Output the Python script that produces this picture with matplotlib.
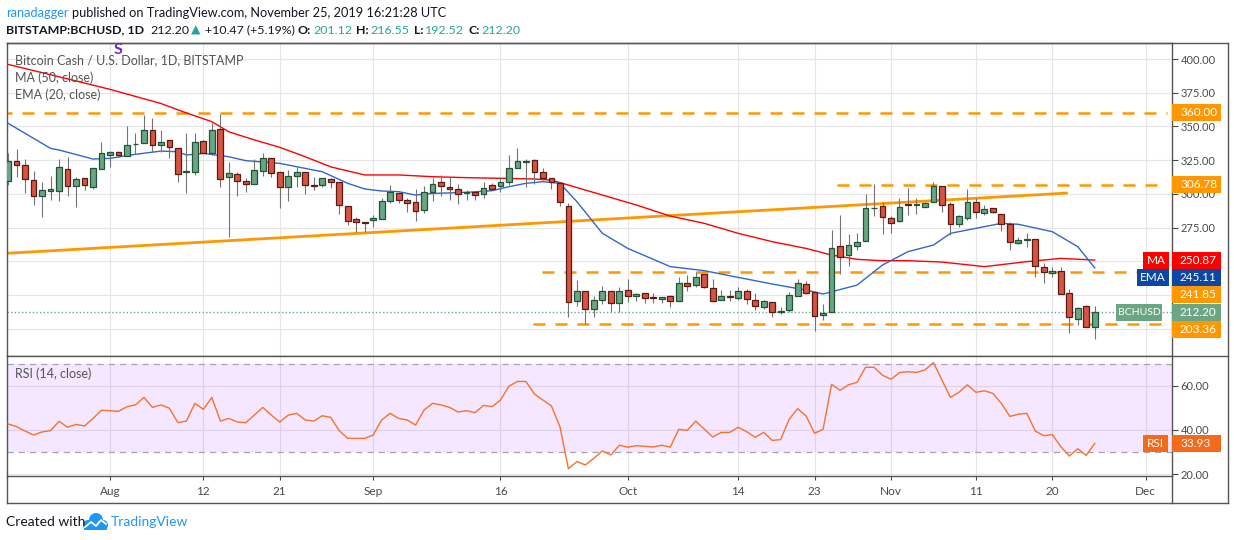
import matplotlib
matplotlib.use("Agg")
import matplotlib.pyplot as plt
import matplotlib.dates as mdates
from matplotlib.lines import Line2D
from matplotlib.patches import Rectangle, Ellipse
from matplotlib.transforms import Affine2D
import numpy as np
import pandas as pd

plt.rcParams["font.family"] = ["Lato", "DejaVu Sans"]

W, H = 1234, 540

# ---- data ----
dates = pd.date_range("2019-07-20", "2019-11-25", freq="D")

opens = [
    309.7, 324.6, 321.6, 310.0, 298.1, 302.1, 302.1, 318.1, 305.5, 311.5, 304.8, 318.1,
    328.8, 330.8, 328.3, 336.7, 337.4, 347.1, 336.0, 339.7, 333.7, 315.9,
    315.9, 339.2, 330.0, 347.8, 312.2, 314.4, 309.2, 307.0, 316.9, 326.3,
    315.9, 304.8, 313.0, 315.9, 306.3, 306.3, 310.7, 308.5, 290.7, 281.0, 278.8,
    280.3, 281.3, 294.4, 300.3, 295.1, 293.7, 287.7, 301.6, 308.5, 304.8,
    303.8, 300.6, 301.1, 299.6, 306.3, 306.0, 308.5, 318.9, 323.8, 324.8,
    315.9, 311.5, 307.8, 290.7, 220.7, 227.6, 214.3, 221.0, 227.6, 218.7,
    228.6, 224.2, 226.1, 223.0, 221.7, 224.2, 220.2, 233.6, 232.1, 240.3,
    229.9, 221.5, 223.9, 222.9, 228.1, 221.5, 216.3, 219.5, 212.3, 213.5,
    224.4, 232.8, 226.9, 210.3, 212.6, 261.0, 254.3, 261.5, 265.2, 289.2, 290.9,
    281.8, 280.1, 292.4, 291.7, 290.0, 293.7, 305.8, 292.2, 277.4, 282.3,
    293.7, 286.0, 289.2, 285.0, 277.4, 263.3, 265.7, 266.2, 245.9, 241.0,
    242.7, 226.2, 206.9, 216.8, 201.12,
]
highs = [
    330.0, 333.0, 325.6, 316.9, 308.7, 313.2, 325.6, 327.0, 312.2, 311.5, 318.9, 338.7,
    331.7, 331.7, 350.5, 344.9, 358.5, 356.5, 347.3, 339.7, 333.7, 345.3,
    344.9, 339.9, 352.3, 359.0, 323.8, 316.4, 311.5, 325.6, 330.5, 326.3,
    315.9, 317.6, 319.6, 315.9, 312.7, 311.5, 311.5, 308.5, 290.7, 282.5, 278.8,
    284.3, 296.6, 306.5, 300.3, 296.6, 303.3, 305.8, 311.5, 313.9, 312.2,
    307.3, 302.8, 301.1, 308.5, 308.3, 312.7, 328.8, 333.7, 325.6, 325.6,
    318.9, 311.5, 309.0, 292.9, 236.0, 227.6, 224.2, 231.8, 227.6, 231.1,
    236.8, 226.6, 226.1, 226.1, 223.7, 225.0, 238.5, 239.8, 242.2, 240.3,
    236.8, 228.6, 228.6, 231.1, 229.1, 226.7, 221.2, 219.5, 215.8, 227.4,
    237.0, 235.3, 226.9, 218.2, 273.2, 284.3, 270.2, 270.7, 299.9, 307.3, 294.2,
    283.5, 296.6, 304.1, 296.6, 294.2, 309.0, 305.8, 294.2, 284.3, 303.3,
    296.6, 291.4, 289.2, 285.0, 279.3, 268.2, 270.7, 266.2, 248.4, 245.9,
    245.9, 229.4, 216.3, 217.5, 216.55,
]
lows = [
    306.5, 312.2, 300.3, 291.7, 283.0, 295.4, 294.9, 298.6, 290.0, 302.8, 303.6, 318.1,
    319.9, 327.5, 328.3, 329.5, 337.4, 331.2, 331.2, 326.3, 309.0, 300.8,
    313.7, 330.0, 328.8, 304.8, 267.7, 298.6, 301.1, 307.0, 313.4, 312.2,
    289.2, 294.6, 305.3, 299.6, 302.8, 305.3, 304.0, 285.0, 276.8, 271.9, 271.9,
    275.6, 281.0, 293.4, 293.4, 286.7, 280.1, 285.5, 294.9, 298.6, 295.4,
    292.4, 295.4, 295.4, 297.1, 303.3, 301.1, 306.5, 318.9, 304.8, 307.3,
    310.2, 303.3, 291.0, 208.8, 216.8, 203.4, 208.8, 218.5, 212.0, 212.0,
    219.5, 220.7, 219.2, 219.2, 219.2, 215.8, 220.2, 228.1, 230.6, 229.9,
    220.0, 221.2, 220.7, 221.2, 218.2, 213.8, 214.8, 208.8, 210.8, 212.6,
    224.2, 225.7, 198.2, 206.4, 212.6, 240.5, 246.4, 258.3, 265.2, 283.5, 270.2,
    270.7, 279.3, 284.3, 284.8, 290.0, 293.7, 286.8, 269.4, 275.6, 280.6,
    281.8, 284.3, 285.5, 272.7, 258.3, 262.8, 260.3, 238.5, 233.6, 238.5,
    225.7, 196.5, 202.7, 200.9, 192.52,
]
closes = [
    324.6, 321.4, 310.7, 298.1, 302.6, 303.6, 319.6, 305.5, 310.7, 306.3, 318.9, 330.0,
    331.0, 328.8, 336.2, 337.0, 347.1, 336.0, 338.2, 334.5, 314.4, 316.9,
    338.7, 330.0, 347.1, 310.7, 315.2, 309.2, 307.0, 317.4, 326.8, 315.4,
    304.8, 313.0, 315.9, 306.3, 305.5, 311.5, 308.5, 291.7, 279.6, 278.8, 278.6,
    282.0, 294.7, 301.3, 295.1, 292.9, 287.0, 301.1, 307.3, 305.5, 303.3,
    299.6, 301.0, 298.8, 304.0, 303.8, 308.5, 318.9, 324.3, 324.2, 315.9,
    312.0, 308.5, 293.9, 220.0, 227.6, 214.3, 221.0, 227.6, 218.7, 227.6,
    224.2, 225.7, 222.4, 222.9, 223.2, 220.2, 233.6, 231.8, 238.5, 230.6,
    220.7, 223.9, 223.7, 227.9, 222.2, 217.0, 220.2, 212.6, 212.8, 224.7,
    233.6, 226.7, 209.6, 211.8, 259.5, 253.4, 261.8, 264.2, 289.2, 289.7, 283.0,
    278.6, 290.0, 291.4, 291.9, 293.4, 305.8, 291.9, 277.4, 283.5, 293.7,
    286.8, 288.5, 286.2, 277.6, 264.0, 265.7, 266.2, 246.7, 241.7, 242.7,
    225.7, 208.8, 215.0, 201.4, 212.20,
]
rsi = [
    42.7, 41.5, 39.5, 37.7, 39.1, 39.7, 43.9, 41.2, 42.5, 41.8, 45.2, 48.9,
    48.7, 48.4, 50.5, 51.3, 54.7, 50.2, 51.3, 49.8, 43.3, 44.0,
    52.0, 49.3, 54.7, 44.0, 45.2, 43.6, 43.3, 46.7, 50.2, 46.7,
    43.6, 46.7, 47.5, 44.5, 44.0, 46.4, 45.7, 39.7, 36.2, 36.2, 36.2,
    37.7, 44.5, 47.5, 45.2, 44.5, 42.2, 49.0, 52.0, 51.3, 50.2,
    48.1, 48.7, 47.8, 51.1, 50.5, 53.5, 59.8, 61.9, 61.9, 56.2,
    53.5, 50.8, 41.5, 22.5, 25.7, 24.2, 27.2, 30.5, 28.7, 33.1,
    32.2, 32.9, 32.6, 32.3, 33.1, 32.2, 40.3, 39.8, 44.0, 40.4,
    36.8, 38.9, 38.9, 41.2, 39.2, 36.7, 38.9, 35.3, 35.6, 44.8,
    49.6, 46.3, 38.5, 40.3, 60.6, 57.9, 60.4, 61.5, 68.3, 68.3, 64.7,
    62.9, 65.9, 66.3, 66.0, 67.1, 70.4, 62.6, 54.7, 57.0, 60.4,
    57.0, 57.7, 56.5, 52.0, 46.1, 47.1, 47.5, 39.5, 37.4, 37.9,
    32.5, 28.2, 31.5, 28.5, 33.93,
]

ma_dates = ["2019-07-20", "2019-07-26", "2019-08-01", "2019-08-07", "2019-08-10",
            "2019-08-13", "2019-08-15", "2019-08-18", "2019-08-21", "2019-08-24",
            "2019-08-27", "2019-08-29", "2019-08-31", "2019-09-04", "2019-09-08",
            "2019-09-12", "2019-09-16", "2019-09-20", "2019-09-22", "2019-09-24",
            "2019-09-28", "2019-10-02", "2019-10-06", "2019-10-10", "2019-10-14",
            "2019-10-18", "2019-10-22", "2019-10-25", "2019-10-28", "2019-10-31",
            "2019-11-03", "2019-11-07", "2019-11-12", "2019-11-17", "2019-11-21",
            "2019-11-25"]
ma_values = [396.0, 386.8, 377.5, 367.0, 360.0, 353.5, 346.0, 340.0, 334.5, 327.5,
             320.0, 317.0, 314.0, 314.0, 312.7, 312.0, 311.5, 311.0, 310.2, 306.5,
             299.1, 291.7, 283.5, 278.1, 270.7, 264.5, 259.5, 254.6, 251.4, 250.4,
             250.4, 249.4, 246.0, 249.7, 252.1, 250.87]

ema_dates = ["2019-07-20", "2019-07-25", "2019-07-26", "2019-07-30", "2019-08-01",
             "2019-08-04", "2019-08-07", "2019-08-09", "2019-08-10", "2019-08-12",
             "2019-08-15", "2019-08-17", "2019-08-21", "2019-08-25", "2019-08-26",
             "2019-08-29", "2019-08-31", "2019-09-02", "2019-09-04", "2019-09-06",
             "2019-09-08", "2019-09-12", "2019-09-15", "2019-09-17", "2019-09-19",
             "2019-09-21", "2019-09-23", "2019-09-25", "2019-09-28", "2019-10-01",
             "2019-10-06", "2019-10-10", "2019-10-14", "2019-10-18", "2019-10-22",
             "2019-10-24", "2019-10-28", "2019-10-31", "2019-11-03", "2019-11-06",
             "2019-11-08", "2019-11-11", "2019-11-14", "2019-11-16", "2019-11-20",
             "2019-11-23", "2019-11-25"]
ema_values = [352.3, 333.7, 332.5, 325.8, 326.3, 329.3, 331.7, 331.2, 328.8, 330.0,
              327.5, 324.6, 322.6, 317.6, 316.4, 307.8, 303.6, 302.1, 301.6, 299.1,
              300.3, 301.1, 302.3, 305.3, 307.8, 309.0, 307.8, 294.2, 270.7, 259.5,
              246.0, 243.0, 238.0, 233.1, 228.6, 225.7, 232.3, 247.2, 257.1, 262.0,
              270.7, 274.4, 278.1, 277.4, 271.9, 260.8, 245.11]

levels = [360.00, 306.78, 241.85, 203.36]
level_starts = ["2019-07-19", "2019-10-25 16:00", "2019-09-20 20:00", "2019-09-19 20:00"]
level_end = "2019-12-03 12:00"
trend_dates = ["2019-07-19 20:00", "2019-11-21 20:00"]
trend_prices = [255.9, 300.6]

last_price = 212.20
ma_last = 250.87
ema_last = 245.11
rsi_last = 33.93

tick_dates = ["2019-08-01", "2019-08-12", "2019-08-21", "2019-09-01", "2019-09-16",
              "2019-10-01", "2019-10-14", "2019-10-23", "2019-11-01", "2019-11-11",
              "2019-11-20", "2019-12-01"]
tick_labels = ["Aug", "12", "21", "Sep", "16", "Oct", "14", "23", "Nov", "11", "20", "Dec"]

# ---- colours ----
UP, UP_EDGE = "#6ba583", "#225437"
DOWN, DOWN_EDGE = "#d75442", "#5b1a13"
ORANGE = "#ff9800"
FRAME = "#555555"
TXT = "#4a4a4a"
TEAL = "#26a69a"
DARK = "#131722"


def num(d):
    return mdates.date2num(pd.to_datetime(d))


fig = plt.figure(figsize=(W / 100, H / 100), dpi=100, facecolor="white")
pix = Affine2D().scale(1, -1).translate(0, H).scale(1 / W, 1 / H) + fig.transFigure


def frac(x0, y_top, x1, y_bot):
    return [x0 / W, 1 - y_bot / H, (x1 - x0) / W, (y_bot - y_top) / H]


ax = fig.add_axes(frac(7, 42.7, 1172, 356))
ax_rsi = fig.add_axes(frac(7, 356, 1172, 476), sharex=ax)

xs = mdates.date2num(dates)
o, h, l, c = map(np.array, (opens, highs, lows, closes))
up = c >= o

aug1 = num("2019-08-01")
ax.set_xlim(aug1 - 12.13, aug1 + 125.1)
ax.set_ylim(179.7, 412.1)
ax_rsi.set_ylim(19.2, 73.4)

for a in (ax, ax_rsi):
    a.set_facecolor("white")
    a.set_axisbelow(True)
    a.grid(True, color="#e6e6e6", lw=0.8)
    for sp in a.spines.values():
        sp.set_color(FRAME)
        sp.set_linewidth(1)
    a.yaxis.tick_right()
    a.tick_params(axis="y", left=False, labelleft=False, right=True, labelright=True,
                  length=4, width=0.8, pad=2, labelsize=8, colors=TXT)

ax.set_xticks([num(d) for d in tick_dates])
ax.tick_params(axis="x", bottom=False, labelbottom=False)
ax_rsi.set_xticks([num(d) for d in tick_dates])
ax_rsi.set_xticklabels(tick_labels)
ax_rsi.tick_params(axis="x", length=3, width=0.8, pad=4, labelsize=8.5, colors=TXT)

ax.set_yticks(np.arange(200, 401, 25))
ax.yaxis.set_major_formatter(matplotlib.ticker.FormatStrFormatter("%.2f"))
ax_rsi.set_yticks([20, 40, 60])
ax_rsi.yaxis.set_major_formatter(matplotlib.ticker.FormatStrFormatter("%.2f"))

# levels and trend line
for lvl, start in zip(levels, level_starts):
    ax.plot([num(start), num(level_end)], [lvl, lvl], color=ORANGE, lw=1.8,
            ls=(0, (4.8, 4.0)), zorder=2)
ax.plot([num(d) for d in trend_dates], trend_prices, color=ORANGE, lw=2, zorder=2.2,
        solid_capstyle="butt")
ax.axhline(last_price, color=UP, lw=1, ls=(0, (1, 1.6)), zorder=1.5)

# moving averages
ax.plot([num(d) for d in ma_dates], ma_values, color="#ff0000", lw=1, zorder=2.5)
ax.plot([num(d) for d in ema_dates], ema_values, color="#3366cc", lw=1, zorder=2.5)

# candles
ax.vlines(xs, l, h, color="#737375", lw=0.8, zorder=3)
body_low = np.minimum(o, c)
body_h = np.maximum(np.abs(c - o), 0.4)
ax.bar(xs, body_h, bottom=body_low, width=0.68,
       color=np.where(up, UP, DOWN), edgecolor=np.where(up, UP_EDGE, DOWN_EDGE),
       linewidth=0.9, zorder=4)

# RSI pane
ax_rsi.axhspan(30, 70, fc="#9915ff", alpha=0.1, lw=0, zorder=1)
for v in (30, 70):
    ax_rsi.axhline(v, color="#a9a2b3", lw=0.9, ls=(0, (5, 4)), zorder=1.5)
ax_rsi.plot(xs, rsi, color="#f7722a", lw=1, zorder=3)


# ---- outer frame ----
def fline(xv, yv, **kw):
    fig.add_artist(Line2D(xv, yv, transform=pix, color=FRAME, lw=1, **kw))


fline([7, 1228], [42.7, 42.7])
fline([1228, 1228], [42.7, 503])
fline([7, 1228], [503, 503])
fline([7, 7], [476, 503])
fline([1172, 1172], [476, 503])
fline([1172, 1228], [356, 356])


# ---- value tags ----
def px_y(axis, value):
    return H - axis.transData.transform((0, value))[1]


def value_tag(y, text, color, name=None, name_x0=None, name_x1=1169, name_size=8):
    fig.add_artist(Rectangle((1172, y - 8.5), 49, 17, transform=pix, fc=color,
                             ec="none", zorder=20))
    fig.text(1180, y, text, transform=pix, color="white", fontsize=8.5,
             va="center", ha="left", zorder=21)
    if name:
        fig.add_artist(Rectangle((name_x0, y - 8.5), name_x1 - name_x0, 17,
                                 transform=pix, fc=color, ec="none", zorder=20))
        fig.text((name_x0 + name_x1) / 2, y, name, transform=pix, color="white",
                 fontsize=name_size, va="center", ha="center", zorder=21)


tags = [
    (360.00, ORANGE, None, None, 1169, 8),
    (306.78, ORANGE, None, None, 1169, 8),
    (ma_last, "#ff0000", "MA", 1143, 1169, 8.5),
    (ema_last, "#0d47a1", "EMA", 1137, 1169, 8.5),
    (241.85, ORANGE, None, None, 1169, 8),
    (last_price, UP, "BCHUSD", 1116, 1162, 7.5),
    (203.36, ORANGE, None, None, 1169, 8),
]
prev = -100
for val, col, name, nx0, nx1, ns in sorted(tags, key=lambda t: -t[0]):
    y = max(px_y(ax, val), prev + 17)
    prev = y
    value_tag(y, f"{val:.2f}", col, name, nx0, nx1, ns)

value_tag(px_y(ax_rsi, rsi_last), f"{rsi_last:.2f}", "#f26b1d", "RSI", 1143, 1168, 8.5)

# ---- header texts, chained left to right ----
renderer = fig.canvas.get_renderer()


def chain(x, y, parts, size):
    for s, col, wt, gap in parts:
        t = fig.text(x, y, s, transform=pix, color=col, fontsize=size,
                     fontweight=wt, va="center")
        x += t.get_window_extent(renderer).width + gap


chain(6, 12.7, [("ranadagger", "#2196f3", "normal", 3),
                ("published on TradingView.com, November 25, 2019 16:21:28 UTC",
                 DARK, "normal", 0)], 9.2)

chain(6, 30, [("BITSTAMP:BCHUSD, 1D", DARK, "bold", 6),
              ("212.20", DARK, "normal", 2),
              ("▲", TEAL, "normal", 4),
              ("+10.47 (+5.19%)", DARK, "normal", 3),
              ("O:", DARK, "bold", 2),
              ("201.12", TEAL, "normal", 4),
              ("H:", DARK, "bold", 2),
              ("216.55", TEAL, "normal", 4),
              ("L:", DARK, "bold", 2),
              ("192.52", TEAL, "normal", 4),
              ("C:", DARK, "bold", 2),
              ("212.20", TEAL, "normal", 0)], 8.9)

fig.text(15, 60, "Bitcoin Cash / U.S. Dollar, 1D, BITSTAMP", transform=pix,
         color="#555555", fontsize=9, va="center", zorder=5)
fig.text(15, 78, "MA (50, close)", transform=pix, color="#555555", fontsize=9,
         va="center", zorder=5)
fig.text(15, 95, "EMA (20, close)", transform=pix, color="#555555", fontsize=9,
         va="center", zorder=5)
fig.text(118, 50, "S", transform=pix, color="#6f2dbd", fontsize=11.5, fontweight="bold",
         ha="center", va="center", zorder=6)
fig.text(15, 374, "RSI (14, close)", transform=pix, color="#555555", fontsize=9,
         va="center", zorder=5)

# ---- footer ----
fig.text(6, 522, "Created with", transform=pix, color=DARK, fontsize=10, va="center")
for cx, cy, r in [(88, 525, 5), (96, 520, 7), (103, 525, 5)]:
    fig.add_artist(Ellipse((cx, cy), 2 * r, 2 * r, transform=pix, fc="#2196f3", ec="none"))
fig.add_artist(Rectangle((84, 524), 23, 6, transform=pix, fc="#2196f3", ec="none"))
fig.add_artist(Line2D([85, 91, 96, 101, 106], [527, 522, 526, 520, 524], transform=pix,
                      color="white", lw=1.3))
fig.text(110.7, 522, "TradingView", transform=pix, color="#2196f3", fontsize=10,
         va="center")

fig.savefig("out.png", dpi=100, facecolor="white")
